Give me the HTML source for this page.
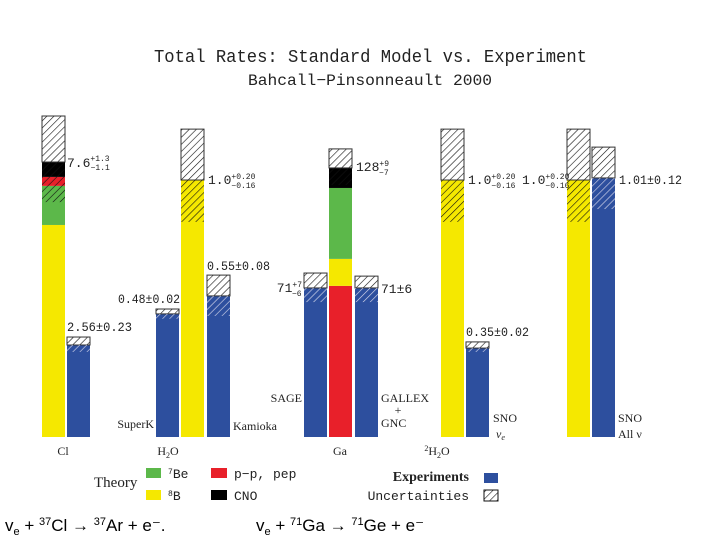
<!DOCTYPE html>
<html><head><meta charset="utf-8"><style>
body{margin:0;background:#fff;width:720px;height:540px;overflow:hidden}
svg{display:block}
.s{font-family:"Liberation Serif","DejaVu Serif",serif;fill:#222}
.m{font-family:"Liberation Mono","DejaVu Sans Mono",monospace;fill:#222}
.a{font-family:"Liberation Sans",Arial,sans-serif;fill:#000}
</style></head><body>
<svg id="chart" width="720" height="540">
<defs>
<pattern id="hb" width="5" height="5" patternUnits="userSpaceOnUse" patternTransform="rotate(45)"><line x1="0" y1="0" x2="0" y2="5" stroke="#111" stroke-width="1.2"/></pattern>
<pattern id="hw" width="5" height="5" patternUnits="userSpaceOnUse" patternTransform="rotate(45)"><line x1="0" y1="0" x2="0" y2="5" stroke="#dde" stroke-width="1.2"/></pattern>
</defs>
<text class="m" x="154" y="62" font-size="18" textLength="433" lengthAdjust="spacingAndGlyphs">Total Rates: Standard Model vs. Experiment</text>
<text class="m" x="248" y="85" font-size="16" textLength="244" lengthAdjust="spacingAndGlyphs">Bahcall−Pinsonneault 2000</text>
<g id="bars"></g>
<g class="m">
<text class="m" x="67" y="167" font-size="13">7.6<tspan font-size="8" dy="-6">+1.3</tspan><tspan font-size="8" dx="-19" dy="9">−1.1</tspan></text>
<text class="m" x="67" y="331" font-size="13" textLength="65" lengthAdjust="spacingAndGlyphs">2.56±0.23</text>
<text class="m" x="118" y="303" font-size="13" textLength="62" lengthAdjust="spacingAndGlyphs">0.48±0.02</text>
<text class="m" x="208" y="184" font-size="13">1.0<tspan font-size="8" dy="-5">+0.20</tspan><tspan font-size="8" dx="-24" dy="9">−0.16</tspan></text>
<text class="m" x="207" y="270" font-size="13" textLength="63" lengthAdjust="spacingAndGlyphs">0.55±0.08</text>
<text class="m" x="302" y="292" text-anchor="end" font-size="13">71<tspan font-size="8" dy="-5">+7</tspan><tspan font-size="8" dx="-10" dy="9">−6</tspan></text>
<text class="m" x="356" y="171" font-size="13">128<tspan font-size="8" dy="-5">+9</tspan><tspan font-size="8" dx="-10" dy="9">−7</tspan></text>
<text class="m" x="381" y="293" font-size="13">71±6</text>
<text class="m" x="468" y="184" font-size="13">1.0<tspan font-size="8" dy="-5">+0.20</tspan><tspan font-size="8" dx="-24" dy="9">−0.16</tspan></text>
<text class="m" x="466" y="336" font-size="13" textLength="63" lengthAdjust="spacingAndGlyphs">0.35±0.02</text>
<text class="m" x="522" y="184" font-size="13">1.0<tspan font-size="8" dy="-5">+0.20</tspan><tspan font-size="8" dx="-24" dy="9">−0.16</tspan></text>
<text class="m" x="619" y="184" font-size="13" textLength="63" lengthAdjust="spacingAndGlyphs">1.01±0.12</text>
</g>
<g class="s" font-size="12">
<text class="s" x="154" y="428" text-anchor="end">SuperK</text>
<text class="s" x="233" y="430">Kamioka</text>
<text class="s" x="302" y="402" text-anchor="end">SAGE</text>
<text class="s" x="381" y="402">GALLEX</text>
<text class="s" x="398" y="414" text-anchor="middle">+</text>
<text class="s" x="381" y="427">GNC</text>
<text class="s" x="493" y="422">SNO</text>
<text class="s" x="496" y="438" font-style="italic">ν<tspan font-size="8" dy="2">e</tspan></text>
<text class="s" x="618" y="422">SNO</text>
<text class="s" x="618" y="438">All ν</text>
<text class="s" x="63" y="455" text-anchor="middle">Cl</text>
<text class="s" x="168" y="455" text-anchor="middle">H<tspan font-size="8" dy="3">2</tspan><tspan dy="-3">O</tspan></text>
<text class="s" x="340" y="455" text-anchor="middle">Ga</text>
<text class="s" x="437" y="455" text-anchor="middle"><tspan font-size="8" dy="-4">2</tspan><tspan dy="4">H</tspan><tspan font-size="8" dy="3">2</tspan><tspan dy="-3">O</tspan></text>
</g>
<g>
<text class="s" x="94" y="487" font-size="15">Theory</text>
<rect x="146" y="468" width="15" height="10" fill="#5cb84a"/>
<text class="m" x="168" y="478" font-size="13"><tspan font-size="8" dy="-4">7</tspan><tspan dy="4">Be</tspan></text>
<rect x="146" y="490" width="15" height="10" fill="#f5e800"/>
<text class="m" x="168" y="500" font-size="13"><tspan font-size="8" dy="-4">8</tspan><tspan dy="4">B</tspan></text>
<rect x="211" y="468" width="16" height="10" fill="#e8202a"/>
<text class="m" x="234" y="478" font-size="13">p−p, pep</text>
<rect x="211" y="490" width="16" height="10" fill="#000"/>
<text class="m" x="234" y="500" font-size="13">CNO</text>
<text class="s" x="469" y="481" font-size="14" text-anchor="end" font-weight="bold">Experiments</text>
<rect x="484" y="473" width="14" height="10" fill="#2d4f9e"/>
<text class="m" x="469" y="500" font-size="13" text-anchor="end">Uncertainties</text>
<rect x="484" y="490" width="14" height="11" fill="url(#hb)" stroke="#111" stroke-width="1"/>
</g>
<text class="a" x="5" y="531" font-size="17">v<tspan font-size="11" dy="4">e</tspan><tspan dy="-4"> + </tspan><tspan font-size="11" dy="-6">37</tspan><tspan dy="6">Cl → </tspan><tspan font-size="11" dy="-6">37</tspan><tspan dy="6">Ar + e⁻.</tspan></text>
<text class="a" x="256" y="531" font-size="17">v<tspan font-size="11" dy="4">e</tspan><tspan dy="-4"> + </tspan><tspan font-size="11" dy="-6">71</tspan><tspan dy="6">Ga → </tspan><tspan font-size="11" dy="-6">71</tspan><tspan dy="6">Ge + e⁻</tspan></text>
</svg>
<script>
// Relative rates (units: standard-model 8B H2O rate = 1.0)
const barNames = ["cl-theory","cl-exp","superk","h2o-theory","kamioka","sage","ga-theory","gallex","sno-theory","sno-ve","sno-theory2","sno-all"];
const barLeft = [42,67,156,181,207,304,329,355,441,466,567,592];
const barKinds = ["theory","exp","exp","theory","exp","exp","theory","exp","theory","exp","theory","exp"];
const theorySegments = [
  [["b8",0.825],["be7",0.977],["pp",1.012],["cno",1.070]],
  null,null,
  [["b8",1.0]],
  null,null,
  [["pp",0.588],["b8",0.693],["be7",0.969],["cno",1.047]],
  null,
  [["b8",1.0]],
  null,
  [["b8",1.0]],
  null
];
const centralValues = [1.070,0.358,0.479,1.0,0.549,0.580,1.047,0.580,1.0,0.346,1.0,1.008];
const upperValues = [1.249,0.389,0.498,1.198,0.630,0.638,1.121,0.626,1.198,0.370,1.198,1.128];
const lowerValues = [0.914,0.331,0.460,0.837,0.471,0.525,0.981,0.525,0.837,0.331,0.837,0.887];

const colors={b8:"#f5e800",be7:"#5cb84a",pp:"#e8202a",cno:"#000",exp:"#2d4f9e"};
const base=437, k=257, bw=23;
function yScale(v){return base - v*k;}
const NS="http://www.w3.org/2000/svg";
const g=document.getElementById("bars");
function rect(x,y,w,h,fill,name,stroke){
  const r=document.createElementNS(NS,"rect");
  r.setAttribute("x",x);r.setAttribute("y",y);r.setAttribute("width",w);r.setAttribute("height",Math.max(0,h));
  r.setAttribute("fill",fill);
  if(stroke){r.setAttribute("stroke",stroke);r.setAttribute("stroke-width","1");}
  
  
  g.appendChild(r);return r;
}
barNames.forEach((n,i)=>{
  const x=barLeft[i];
  if(barKinds[i]==="theory"){
    let prev=0;
    theorySegments[i].forEach(s=>{
      rect(x,yScale(s[1]),bw,yScale(prev)-yScale(s[1]),colors[s[0]],n+"-"+s[0]);
      prev=s[1];
    });
  } else {
    rect(x,yScale(centralValues[i]),bw,yScale(0)-yScale(centralValues[i]),colors.exp,n+"-bar");
  }
  rect(x,yScale(upperValues[i]),bw,yScale(centralValues[i])-yScale(upperValues[i]),"#fff",n+"-unc-bg");
  rect(x,yScale(upperValues[i]),bw,yScale(centralValues[i])-yScale(upperValues[i]),"url(#hb)",n+"-unc-upper","#333");
  rect(x,yScale(centralValues[i]),bw,yScale(lowerValues[i])-yScale(centralValues[i]),barKinds[i]==="theory"?"url(#hb)":"url(#hw)",n+"-unc-lower");
});
</script>
</body></html>
